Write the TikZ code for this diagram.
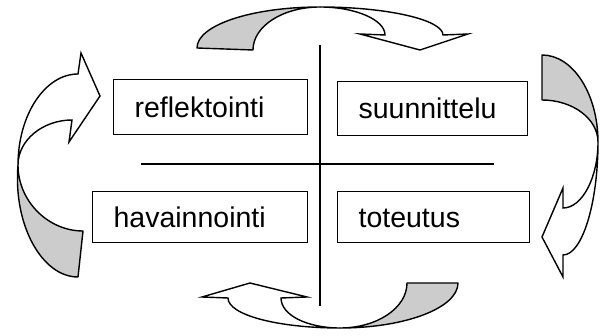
\documentclass[tikz,border=0pt]{standalone}
\usepackage{fontspec}
\setmainfont{Liberation Sans}
\definecolor{ribbonback}{RGB}{204,204,204}
\begin{document}
\begin{tikzpicture}[x=1pt,y=-1pt,
  phase/.style={draw=black, line width=1.2pt, rectangle, anchor=north west,
    inner xsep=21pt, inner ysep=0pt, align=left, text height=20pt, text depth=0pt,
    font=\fontsize{28.5}{32}\selectfont},
  back/.style={fill=ribbonback, draw=black, line width=1.4pt, line join=round},
  front/.style={fill=white, draw=black, line width=1.4pt, line join=miter},
  axis/.style={line width=1.5pt}]
\useasboundingbox (0,0) rectangle (600,336);

% dividing cross
\coordinate (vtop) at (320,45);
\coordinate (vbot) at (320,306);
\coordinate (hleft) at (141,164);
\coordinate (hright) at (494,164);
\draw[axis] (vtop) -- (vbot);
\draw[axis] (hleft) -- (hright);

% the four phases
\node[phase, minimum height=55pt, text width=152pt] (refl) at (113,79) {reflektointi};
\node[phase, minimum height=54pt, text width=148pt] (suun) at (337,81) {suunnittelu};
\node[phase, minimum height=51pt, text width=173pt] (hava) at (92,191) {havainnointi};
\node[phase, minimum height=51pt, text width=150pt] (tote) at (337,191) {toteutus};

% top curved arrow: reflektointi -> suunnittelu
\draw[back] (197,48) .. controls (197,25) and (252,7) .. (320,7)
  .. controls (283,7) and (253,26) .. (253,50) -- cycle;
\draw[front] (320,7) .. controls (388,7) and (443,20) .. (443,35)
  -- (468,34) -- (420,50) -- (360,34) -- (385,35)
  .. controls (385,20) and (356,7) .. (320,7) -- cycle;

% right curved arrow: suunnittelu -> toteutus
\draw[back] (542,55) .. controls (573,55) and (598,94) .. (598,142)
  .. controls (598,119) and (573,100) .. (542,100) -- cycle;
\draw[front] (598,142) .. controls (598,204) and (582,255) .. (563,255)
  -- (563,277) -- (542,237) -- (563,188) -- (563,208)
  .. controls (582,208) and (598,178) .. (598,142) -- cycle;

% bottom curved arrow: toteutus -> havainnointi
\draw[back] (458,283) .. controls (458,308) and (405,328) .. (340,328)
  .. controls (377,328) and (407,308) .. (407,283) -- cycle;
\draw[front] (340,328) .. controls (278,328) and (228,315) .. (228,298)
  -- (202,297) -- (250,283) -- (307,297) -- (281,298)
  .. controls (281,315) and (307,328) .. (340,328) -- cycle;

% left curved arrow: havainnointi -> reflektointi
\draw[back] (18,165) .. controls (13,225) and (42,277) .. (78,277)
  -- (83,231) .. controls (48,231) and (18,201) .. (18,165) -- cycle;
\draw[front] (18,165) .. controls (18,115) and (45,74) .. (78,74)
  -- (81,53) -- (100,96) -- (69,142) -- (72,120)
  .. controls (43,120) and (18,140) .. (18,165) -- cycle;
\end{tikzpicture}
\end{document}
